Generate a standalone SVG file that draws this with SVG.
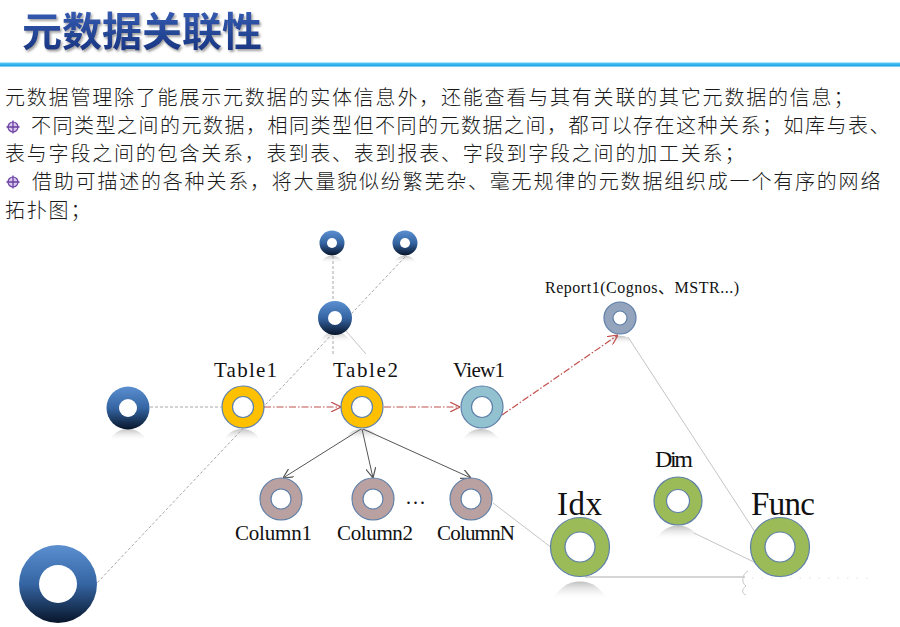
<svg xmlns="http://www.w3.org/2000/svg" width="900" height="627" viewBox="0 0 900 627">
<defs>
<linearGradient id="gTitle" x1="0" y1="0" x2="0" y2="1"><stop offset="0" stop-color="#3d66bd"/><stop offset="1" stop-color="#132f7a"/></linearGradient>
<linearGradient id="gDark" x1="0" y1="0" x2="0" y2="1"><stop offset="0" stop-color="#5b8fd0"/><stop offset="0.5" stop-color="#3565a3"/><stop offset="1" stop-color="#08152a"/></linearGradient>
<linearGradient id="gRefl" x1="0" y1="0" x2="0" y2="1"><stop offset="0" stop-color="#808080" stop-opacity="0.5"/><stop offset="1" stop-color="#ffffff" stop-opacity="0"/></linearGradient>
<linearGradient id="gLine" x1="0" y1="0" x2="0" y2="1"><stop offset="0" stop-color="#5ccdf5"/><stop offset="1" stop-color="#0f9fe3"/></linearGradient>
<filter id="fShadow" x="-5%" y="-20%" width="110%" height="150%"><feDropShadow dx="1.5" dy="2" stdDeviation="1" flood-color="#7a7a7a" flood-opacity="0.7"/></filter>
<marker id="mRed" viewBox="0 0 10 10" refX="10" refY="5" markerWidth="10" markerHeight="10" markerUnits="userSpaceOnUse" orient="auto"><path d="M0,0 L10,5 L0,10" fill="none" stroke="#c0504d" stroke-width="1.2"/></marker>
<marker id="mGray" viewBox="0 0 10 10" refX="10" refY="5" markerWidth="10" markerHeight="10" markerUnits="userSpaceOnUse" orient="auto"><path d="M0,0 L10,5 L0,10" fill="none" stroke="#555" stroke-width="1.2"/></marker>
</defs>
<style>
.body{font-family:"Noto Sans CJK SC","Noto Sans",sans-serif;font-size:20px;font-weight:300;letter-spacing:1.8px;fill:#1a1a1a}
.lbl{font-family:"Liberation Serif","Noto Sans CJK SC",serif;fill:#111}
.refl{fill:url(#gRefl)}
.dark{fill:url(#gDark)}
.hole{fill:#fff}
.ring{stroke:#5d7fa8;stroke-width:1.2}
.holeS{fill:#fff;stroke:#5d7fa8;stroke-width:1.2}
.gray{fill:none;stroke:#a8a8a8;stroke-width:1;stroke-dasharray:3 2}
.light{fill:none;stroke:#c4c4c4;stroke-width:1}
.red{fill:none;stroke:#c0504d;stroke-width:1.2;stroke-dasharray:7 2 1.5 2;marker-end:url(#mRed)}
.arr{fill:none;stroke:#555;stroke-width:1;marker-end:url(#mGray)}
.bullet{fill:#d9c8ee;stroke:#6a3fa0;stroke-width:1.2}
</style>
<rect width="900" height="627" fill="#fff"/>

<g id="header">
<text x="22" y="46" font-family="'Noto Sans CJK SC',sans-serif" font-size="40" font-weight="bold" fill="url(#gTitle)" filter="url(#fShadow)">元数据关联性</text>
<rect x="0" y="62.5" width="900" height="4" fill="url(#gLine)"/>
</g>

<g id="body-text">
<text class="body" x="5" y="105">元数据管理除了能展示元数据的实体信息外，还能查看与其有关联的其它元数据的信息；</text>
<g class="bullet-icon"><circle class="bullet" cx="13" cy="127" r="5"/><path d="M13,120.5 V133.5 M6.5,127 H19.5" stroke="#6a3fa0" stroke-width="1.3"/></g>
<text class="body" x="31" y="133" style="letter-spacing:1.5px">不同类型之间的元数据，相同类型但不同的元数据之间，都可以存在这种关系；如库与表、</text>
<text class="body" x="5" y="161">表与字段之间的包含关系，表到表、表到报表、字段到字段之间的加工关系；</text>
<g class="bullet-icon"><circle class="bullet" cx="13" cy="182" r="5"/><path d="M13,175.5 V188.5 M6.5,182 H19.5" stroke="#6a3fa0" stroke-width="1.3"/></g>
<text class="body" x="32" y="189">借助可描述的各种关系，将大量貌似纷繁芜杂、毫无规律的元数据组织成一个有序的网络</text>
<text class="body" x="5" y="218">拓扑图；</text>
</g>

<g id="reflections">
<path class="refl" d="M321,263 A12 12 0 0 1 343,263 Z"/>
<path class="refl" d="M394,263 A12 12 0 0 1 416,263 Z"/>
<path class="refl" d="M319,343 A17 17 0 0 1 351,343 Z"/>
<path class="refl" d="M109,441 A21 21 0 0 1 147,441 Z"/>
<path class="refl" d="M223,441 A21 21 0 0 1 261,441 Z"/>
<path class="refl" d="M343,441 A21 21 0 0 1 381,441 Z"/>
<path class="refl" d="M462,441 A21 21 0 0 1 500,441 Z"/>
<path class="refl" d="M606,344 A16 16 0 0 1 634,344 Z"/>
<path class="refl" d="M553,600 A29 29 0 0 1 607,600 Z"/>
<path class="refl" d="M656,540 A24 24 0 0 1 700,540 Z"/>
</g>

<g id="connectors">
<line class="gray" x1="150" y1="407" x2="221" y2="407"/>
<line class="gray" x1="405" y1="257" x2="97" y2="583"/>
<line class="gray" x1="333" y1="256" x2="333" y2="355" stroke="#c8c8c8"/>
<line class="light" x1="346" y1="331" x2="366" y2="354" stroke="#dddddd"/>
<line class="red" x1="264" y1="407" x2="341" y2="407"/>
<line class="red" x1="384" y1="407" x2="460" y2="407"/>
<line class="red" x1="502" y1="415" x2="618" y2="335"/>
<line class="arr" x1="361" y1="429" x2="283" y2="478"/>
<line class="arr" x1="362" y1="429" x2="373" y2="478"/>
<line class="arr" x1="363" y1="429" x2="471" y2="478"/>
<line class="light" x1="628" y1="337" x2="757" y2="535"/>
<line class="light" x1="493" y1="503" x2="552" y2="548"/>
<line class="light" x1="694" y1="533" x2="756" y2="563"/>
<line x1="585" y1="577" x2="745" y2="577" stroke="#d6d6d6" stroke-width="2"/>
<path d="M748,571 C742,574 741,583 746,586 C742,589 741,593 746,595" fill="none" stroke="#c8c8c8" stroke-width="1"/>
<line x1="752" y1="578" x2="870" y2="578" stroke="#e0e0e0" stroke-width="1.2" stroke-dasharray="1.5 8"/>
</g>

<g id="node-top-left"><circle class="dark" cx="332" cy="243" r="12.5"/><circle class="hole" cx="332" cy="243" r="5"/></g>
<g id="node-top-right"><circle class="dark" cx="405" cy="243" r="12.5"/><circle class="hole" cx="405" cy="243" r="5"/></g>
<g id="node-mid"><circle class="dark" cx="335" cy="318" r="17"/><circle class="hole" cx="335" cy="318" r="7"/></g>
<g id="node-left"><circle class="dark" cx="128" cy="408" r="21.5"/><circle class="hole" cx="128" cy="408" r="9"/></g>
<g id="node-big"><circle class="dark" cx="58" cy="584" r="39"/><circle class="hole" cx="58" cy="584" r="19"/></g>

<g id="node-table1"><circle class="ring" cx="243" cy="407" r="21" fill="#ffc000"/><circle class="holeS" cx="243" cy="407" r="10.5"/><text class="lbl" x="214" y="377" font-size="21" textLength="63" lengthAdjust="spacing">Table1</text></g>
<g id="node-table2"><circle class="ring" cx="362" cy="407" r="21" fill="#ffc000"/><circle class="holeS" cx="362" cy="407" r="10.5"/><text class="lbl" x="333" y="377" font-size="21" textLength="65" lengthAdjust="spacing">Table2</text></g>
<g id="node-view1"><circle class="ring" cx="482" cy="407" r="21" fill="#92c2cf" stroke="#4f81bd"/><circle class="holeS" cx="482" cy="407" r="10.5"/><text class="lbl" x="453" y="377" font-size="21" textLength="52" lengthAdjust="spacing">View1</text></g>
<g id="node-report1"><circle class="ring" cx="620" cy="318" r="16" fill="#95a4bd" stroke="#4f81bd"/><circle class="holeS" cx="620" cy="318" r="7"/><text class="lbl" x="545" y="293" font-size="16" textLength="194" lengthAdjust="spacing">Report1(Cognos、MSTR...)</text></g>
<g id="node-column1"><circle class="ring" cx="281" cy="499" r="21" fill="#b9a1a2" stroke="#4f81bd"/><circle class="holeS" cx="281" cy="499" r="10"/><text class="lbl" x="235" y="540" font-size="21" textLength="77" lengthAdjust="spacing">Column1</text></g>
<g id="node-column2"><circle class="ring" cx="373" cy="499" r="21" fill="#b9a1a2" stroke="#4f81bd"/><circle class="holeS" cx="373" cy="499" r="10"/><text class="lbl" x="337" y="540" font-size="21" textLength="76" lengthAdjust="spacing">Column2</text></g>
<text class="lbl" x="406" y="504" font-size="20" textLength="19" lengthAdjust="spacing">...</text>
<g id="node-columnN"><circle class="ring" cx="471" cy="499" r="21" fill="#b9a1a2" stroke="#4f81bd"/><circle class="holeS" cx="471" cy="499" r="10"/><text class="lbl" x="437" y="540" font-size="21" textLength="78" lengthAdjust="spacing">ColumnN</text></g>
<g id="node-idx"><circle class="ring" cx="580" cy="547" r="29.5" fill="#9bbb59" stroke="#4f81bd"/><circle class="holeS" cx="580" cy="547" r="15" stroke="#4f81bd"/><text class="lbl" x="557" y="515" font-size="33" textLength="45" lengthAdjust="spacing">Idx</text></g>
<g id="node-dim"><circle class="ring" cx="678" cy="501" r="24" fill="#9bbb59" stroke="#4f81bd"/><circle class="holeS" cx="678" cy="501" r="11.5" stroke="#4f81bd"/><text class="lbl" x="655" y="467" font-size="24" textLength="38" lengthAdjust="spacing">Dim</text></g>
<g id="node-func"><circle class="ring" cx="780" cy="547" r="29.5" fill="#9bbb59" stroke="#4f81bd"/><circle class="holeS" cx="780" cy="547" r="15" stroke="#4f81bd"/><text class="lbl" x="751" y="515" font-size="33" textLength="64" lengthAdjust="spacing">Func</text></g>
</svg>
